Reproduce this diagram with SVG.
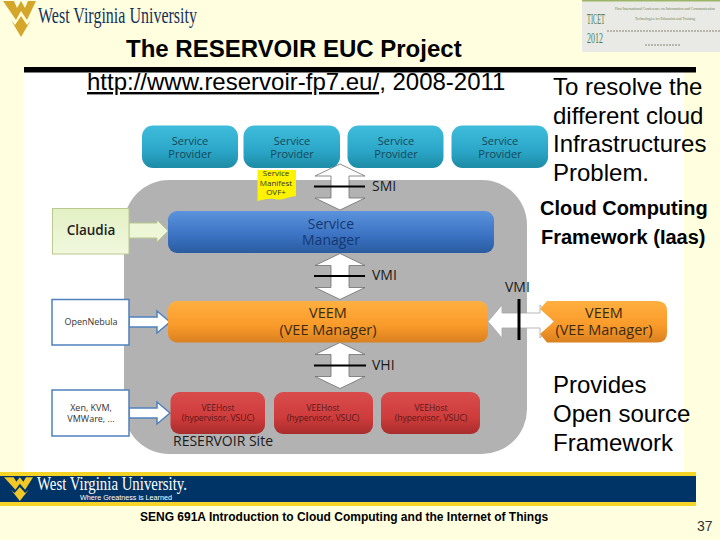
<svg xmlns="http://www.w3.org/2000/svg" width="720" height="540" viewBox="0 0 720 540">
<style>
.a{font-family:"Liberation Sans",Arial,sans-serif;fill:#000}
.b{font-weight:700}
.t{font-size:24px}
.d{font-family:"Open Sans",sans-serif;text-anchor:middle}
.box{stroke:none}
.arrow{fill:#fff;stroke:#6f6f6f;stroke-width:.8}
.api{stroke:#000;stroke-width:2}
.lab{font-family:"Open Sans",sans-serif;font-size:14px;fill:#1a1a1a}
.serif{font-family:"Liberation Serif",serif}
</style>
<defs>
<linearGradient id="gt" x1="0" y1="0" x2="0" y2="1"><stop offset="0" stop-color="#3fbcdc"/><stop offset=".6" stop-color="#2ba6c8"/><stop offset="1" stop-color="#1d8ba5"/></linearGradient>
<linearGradient id="gb" x1="0" y1="0" x2="0" y2="1"><stop offset="0" stop-color="#5c93dc"/><stop offset=".6" stop-color="#3a71c2"/><stop offset="1" stop-color="#2a5c9f"/></linearGradient>
<linearGradient id="go" x1="0" y1="0" x2="0" y2="1"><stop offset="0" stop-color="#ffb040"/><stop offset=".6" stop-color="#f99a2a"/><stop offset="1" stop-color="#d9801f"/></linearGradient>
<linearGradient id="gr" x1="0" y1="0" x2="0" y2="1"><stop offset="0" stop-color="#d94c4c"/><stop offset=".6" stop-color="#cf3c3c"/><stop offset="1" stop-color="#a92c2c"/></linearGradient>
<linearGradient id="gg" x1="0" y1="0" x2="0" y2="1"><stop offset="0" stop-color="#e3f0c4"/><stop offset="1" stop-color="#f1f8de"/></linearGradient>
<g id="wv"><path d="M0 1H11L14 8L18 1L22 8L25 1H33L24 20L18 11L13 20Z"/><path d="M8 20L12 25L18 16L24 25L28 20L18 37Z"/></g>
<path id="vert" class="arrow" d="M0 -23L25 -11H9V11H25L0 23L-25 11H-9V-11H-25Z"/>
</defs>

<rect width="720" height="540" fill="#ffffe0"/>
<rect x="24" y="72" width="660" height="401" fill="#fff"/>
<rect x="24" y="67" width="672" height="5.500" fill="#000"/>

<g id="logo-top">
<use href="#wv" x="3" y="0" fill="#d4a62a"/>
<text class="serif" x="38" y="23" font-size="24" fill="#16305a" textLength="159" lengthAdjust="spacingAndGlyphs">West Virginia University</text>
</g>
<g id="logo-ticet">
<rect x="582" y="0" width="138" height="52" fill="#e9eae6"/>
<rect x="582" y="0" width="138" height="1.500" fill="#9db56a"/>
<text class="serif" x="587" y="24" font-size="15" fill="#4d7a4d" textLength="18" lengthAdjust="spacingAndGlyphs">TICET</text>
<text class="serif" x="587" y="43" font-size="15" fill="#4d7a4d" textLength="16" lengthAdjust="spacingAndGlyphs">2012</text>
<text class="serif" x="615" y="10" font-size="4" fill="#6f7f4f" textLength="100" lengthAdjust="spacingAndGlyphs">First International Conference on Information and Communication</text>
<text class="serif" x="635" y="20" font-size="4.500" fill="#6f7f4f" textLength="60" lengthAdjust="spacingAndGlyphs">Technologies for Education and Training</text>
<path d="M607 31H720M645 45H681" stroke="#a5a59a" stroke-width="1.500" stroke-dasharray="2 1"/>
</g>

<text class="a b" x="126" y="57" font-size="24">The RESERVOIR EUC Project</text>
<text class="a" x="87" y="90" font-size="24"><tspan text-decoration="underline">http://www.reservoir-fp7.eu/</tspan>, 2008-2011</text>
<g class="a t">
<text x="553" y="95">To resolve the</text>
<text x="553" y="124">different cloud</text>
<text x="553" y="152">Infrastructures</text>
<text x="553" y="181">Problem.</text>
<text x="553" y="393">Provides</text>
<text x="553" y="422">Open source</text>
<text x="553" y="451">Framework</text>
</g>
<text class="a b" x="540" y="215" font-size="20">Cloud Computing</text>
<text class="a b" x="541" y="244" font-size="20">Framework (Iaas)</text>

<rect id="site" x="124" y="180" width="403" height="274" rx="45" fill="#b2b2b2"/>

<g id="connectors">
<use href="#vert" x="340" y="187"/>
<use href="#vert" x="340" y="276.500"/>
<use href="#vert" x="340" y="365.500"/>
<path class="api" d="M314 186.500H365M314 276H365M314 365.500H366"/>
<path d="M129 223H157V220L168 231L157 242V238H129Z" fill="#eef6d8" stroke="#b9c98f" stroke-width="1"/>
<path d="M129 317H157V311L170 322L157 333V327H129Z" fill="#fff" stroke="#4f81bd" stroke-width="1.500"/>
<path d="M129 408H157V402L170 413L157 424V418H129Z" fill="#fff" stroke="#4f81bd" stroke-width="1.500"/>
<path class="arrow" d="M488 321.500L502 305V313H540V305L554 321.500L540 338V328H502V338Z" style="stroke:#a5a5a5"/>
<path d="M519 299V340" stroke="#000" stroke-width="3"/>
</g>

<g id="sp1"><rect class="box" x="142" y="125.500" width="96" height="42.500" rx="11" fill="url(#gt)"/><text class="d" font-size="11" fill="#16475a"><tspan x="190" y="145">Service</tspan><tspan x="190" y="158">Provider</tspan></text></g>
<g id="sp2"><rect class="box" x="243.500" y="125.500" width="96.500" height="42.500" rx="11" fill="url(#gt)"/><text class="d" font-size="11" fill="#16475a"><tspan x="292" y="145">Service</tspan><tspan x="292" y="158">Provider</tspan></text></g>
<g id="sp3"><rect class="box" x="347.500" y="125.500" width="96" height="42.500" rx="11" fill="url(#gt)"/><text class="d" font-size="11" fill="#16475a"><tspan x="396" y="145">Service</tspan><tspan x="396" y="158">Provider</tspan></text></g>
<g id="sp4"><rect class="box" x="451.500" y="125.500" width="96.500" height="42.500" rx="11" fill="url(#gt)"/><text class="d" font-size="11" fill="#16475a"><tspan x="500" y="145">Service</tspan><tspan x="500" y="158">Provider</tspan></text></g>

<g id="manifest"><path d="M257.500 170H296V196C286 197 284 201 274 199C268 198 263 200 257.500 201Z" fill="#fdf200"/><text class="d" font-size="8" fill="#333"><tspan x="276" y="176">Service</tspan><tspan x="276" y="185.500">Manifest</tspan><tspan x="276" y="194.500">OVF+</tspan></text></g>

<g id="manager"><rect class="box" x="168" y="211" width="326" height="42" rx="9" fill="url(#gb)"/><text class="d" font-size="14" fill="#14386e"><tspan x="331" y="229">Service</tspan><tspan x="331" y="245">Manager</tspan></text></g>
<g id="veem"><rect class="box" x="168" y="301" width="320" height="41.500" rx="9" fill="url(#go)"/><text class="d" font-size="14.500" fill="#3a2a10"><tspan x="328" y="318">VEEM</tspan><tspan x="328" y="335">(VEE Manager)</tspan></text></g>
<g id="veem2"><path d="M547 301H657Q667 301 667 311V333Q667 342.500 657 342.500H547L540 334L554 321.500L540 309Z" fill="url(#go)"/><text class="d" font-size="14.500" fill="#3a2a10"><tspan x="604" y="318">VEEM</tspan><tspan x="604" y="335">(VEE Manager)</tspan></text></g>

<g id="host1"><rect class="box" x="170.500" y="392" width="94.500" height="42" rx="9" fill="url(#gr)"/><text class="d" font-size="8.500" fill="#5a1818"><tspan x="218" y="411">VEEHost</tspan><tspan x="218" y="421">(hypervisor, VSUC)</tspan></text></g>
<g id="host2"><rect class="box" x="274" y="392" width="99" height="42" rx="9" fill="url(#gr)"/><text class="d" font-size="8.500" fill="#5a1818"><tspan x="323" y="411">VEEHost</tspan><tspan x="323" y="421">(hypervisor, VSUC)</tspan></text></g>
<g id="host3"><rect class="box" x="381" y="392" width="99" height="42" rx="9" fill="url(#gr)"/><text class="d" font-size="8.500" fill="#5a1818"><tspan x="431" y="411">VEEHost</tspan><tspan x="431" y="421">(hypervisor, VSUC)</tspan></text></g>

<g id="claudia"><rect x="52.500" y="208.500" width="76.500" height="45.500" fill="url(#gg)" stroke="#b9c98f"/><text class="d" font-size="13.500" font-weight="600" fill="#222" x="91" y="235">Claudia</text></g>
<g id="opennebula"><rect x="52" y="299.500" width="77" height="45.500" fill="#fff" stroke="#4f81bd" stroke-width="1.500"/><text class="d" font-size="9" fill="#333" x="91" y="325">OpenNebula</text></g>
<g id="xen"><rect x="52" y="390" width="77" height="46" fill="#fff" stroke="#4f81bd" stroke-width="1.500"/><text class="d" font-size="9" fill="#333"><tspan x="91" y="411">Xen, KVM,</tspan><tspan x="91" y="422">VMWare, ...</tspan></text></g>

<text class="lab" x="372" y="191">SMI</text>
<text class="lab" x="372" y="280">VMI</text>
<text class="lab" x="372" y="370">VHI</text>
<text class="lab" x="505" y="292">VMI</text>
<text class="lab" x="173" y="446">RESERVOIR Site</text>

<g id="footer">
<rect x="0" y="472" width="696" height="34" fill="#f5d327"/>
<rect x="0" y="476" width="696" height="26" fill="#003366"/>
<use href="#wv" transform="translate(4 476.500) scale(.88 .66)" fill="#f0c828"/>
<text class="serif" x="37" y="490" font-size="18" fill="#fff" textLength="150" lengthAdjust="spacingAndGlyphs">West Virginia University.</text>
<text class="a" x="80" y="500" font-size="7.500" style="fill:#fff" textLength="92" lengthAdjust="spacingAndGlyphs">Where Greatness is Learned</text>
</g>
<text class="a b" x="140" y="521" font-size="12">SENG 691A Introduction to Cloud Computing and the Internet of Things</text>
<text class="a" x="697" y="531" font-size="14" style="fill:#333">37</text>
</svg>
